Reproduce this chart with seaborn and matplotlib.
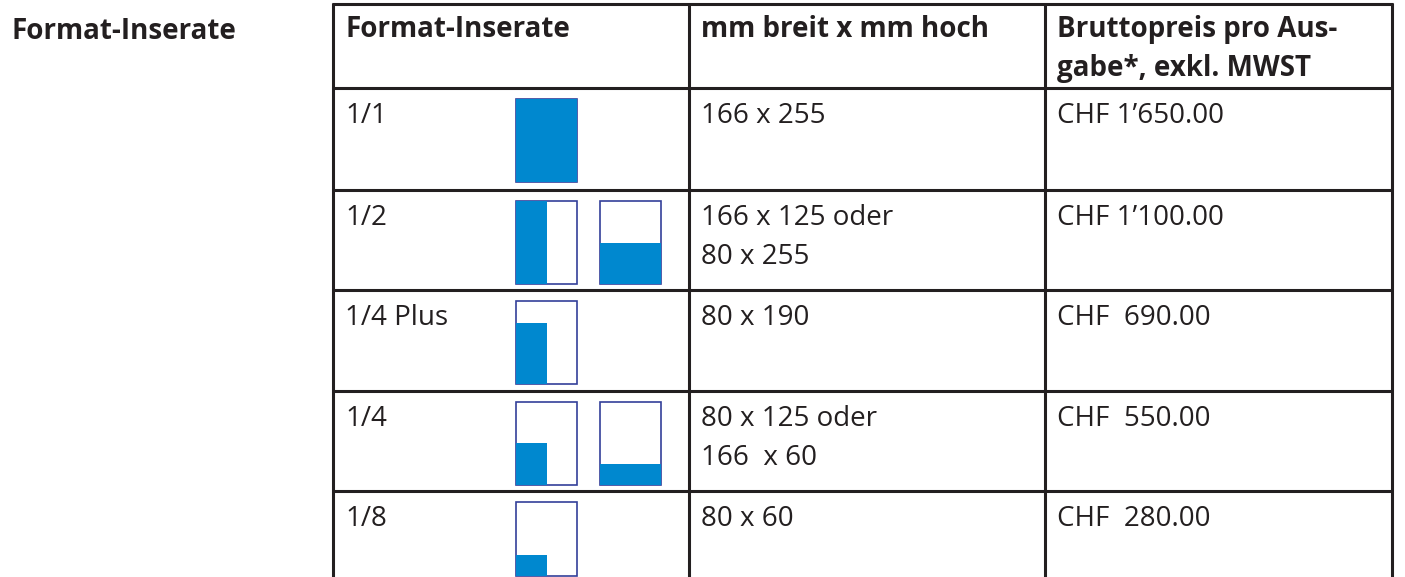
import matplotlib
matplotlib.use("Agg")
import matplotlib.pyplot as plt
from matplotlib.patches import Rectangle
import seaborn as sns

sns.set_style("white")
plt.rcParams["font.family"] = ["Open Sans", "DejaVu Sans"]

# Tabelleninhalt
title = "Format-Inserate"
headers = ["Format-Inserate", "mm breit x mm hoch", "Bruttopreis pro Aus-\ngabe*, exkl. MWST"]
formats = ["1/1", "1/2", "1/4 Plus", "1/4", "1/8"]
sizes = ["166 x 255", "166 x 125 oder\n80 x 255", "80 x 190", "80 x 125 oder\n166  x 60", "80 x 60"]
prices = ["CHF 1\u2019650.00", "CHF 1\u2019100.00", "CHF  690.00", "CHF  550.00", "CHF  280.00"]

# Symbole: Zeile, Spalte (0/1), Anteil gefuellt (Breite, Hoehe)
icon_row = [0, 1, 1, 2, 3, 3, 4]
icon_slot = [0, 0, 1, 0, 0, 1, 0]
fill_w = [1.0, 0.5, 1.0, 0.5, 0.5, 1.0, 0.5]
fill_h = [1.0, 1.0, 0.5, 0.73, 0.51, 0.25, 0.28]

blue = "#0088cf"
edge = "#34409a"
line = "#231f20"

fig, ax = plt.subplots(figsize=(14.05, 5.77), dpi=100)
ax.set_position([0, 0, 1, 1])
ax.set_xlim(0, 1405)
ax.set_ylim(577, 0)
ax.axis("off")

col_x = [333, 689, 1045, 1392]
row_y = [4, 88, 190, 290, 391, 491]
lw = 2.2
fs = 20
step = 39  # Zeilenabstand in Pixel


def cell_text(x, y, s, bold=False):
    # mehrzeiligen Text Zeile fuer Zeile auf die Grundlinie setzen
    for j, part in enumerate(s.split("\n")):
        ax.text(x, y + j * step, part, fontsize=fs, color=line, va="baseline",
                fontweight="bold" if bold else "normal")


# Gitterlinien
for x in col_x:
    ax.plot([x, x], [row_y[0] - 1, 577], color=line, lw=lw, solid_capstyle="butt")
for y in row_y:
    ax.plot([col_x[0] - 1, col_x[-1] + 1], [y, y], color=line, lw=lw, solid_capstyle="butt")

cell_text(12, 39, title, bold=True)
for i, h in enumerate(headers):
    cell_text(col_x[i] + 12, 37, h, bold=True)

for r in range(len(formats)):
    base = row_y[r + 1] + 35
    cell_text(col_x[0] + 12, base, formats[r])
    cell_text(col_x[1] + 12, base, sizes[r])
    cell_text(col_x[2] + 12, base, prices[r])

# Symbole zeichnen
slot_x = [516, 600]
for k in range(len(icon_row)):
    r = icon_row[k]
    x0 = slot_x[icon_slot[k]]
    y0 = row_y[r + 1] + 11
    w = 61
    h = 83 if r < 4 else 74
    ax.add_patch(Rectangle((x0, y0), w, h, facecolor="white", edgecolor=edge, lw=1.2))
    fw = w * fill_w[k]
    fh = h * fill_h[k]
    ax.add_patch(Rectangle((x0, y0 + h - fh), fw, fh, facecolor=blue, edgecolor="none"))

fig.savefig("out.png", dpi=100)
